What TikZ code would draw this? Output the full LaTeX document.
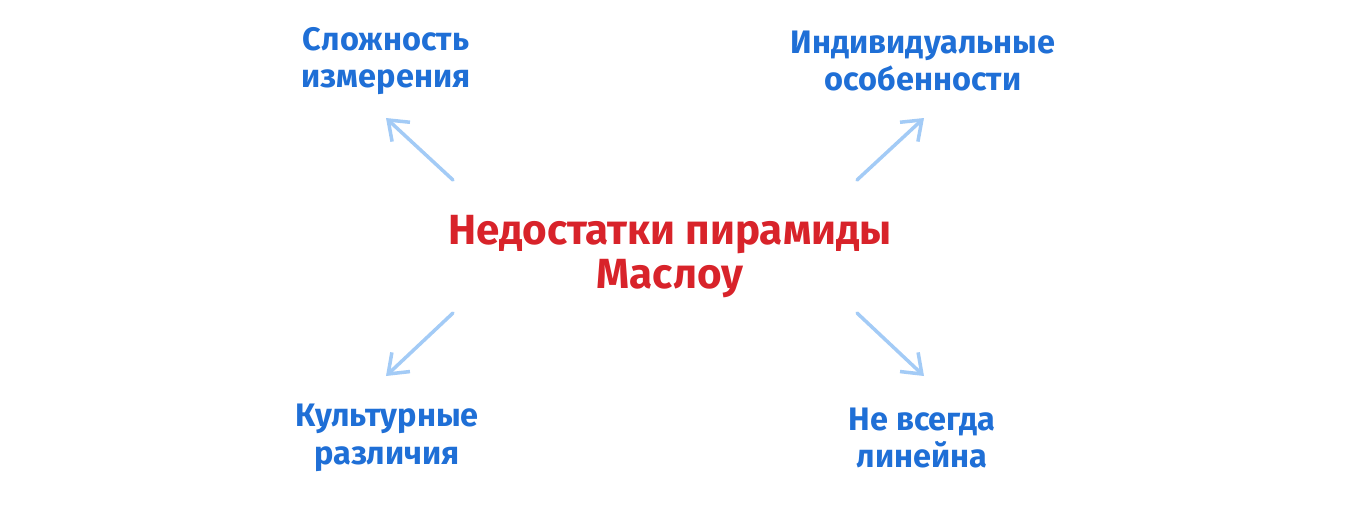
\documentclass[tikz,border=0pt]{standalone}
\usepackage{fontspec}
\setmainfont{Fira Sans}
\usetikzlibrary{arrows.meta, positioning}
\definecolor{titlered}{HTML}{D8232A}
\definecolor{labelblue}{HTML}{1F6FD6}
\definecolor{arrowblue}{HTML}{A3CBF6}
\tikzset{
    x=0.02cm, y=-0.02cm, % one unit per pixel of the sketch
    title/.style={text=titlered, align=center, font=\fontsize{24}{25}\selectfont\bfseries},
    reason/.style={text=labelblue, align=center, font=\fontsize{18.5}{21.5}\selectfont\bfseries},
    pointer/.style={draw=arrowblue, line width=2pt, line cap=round, -{Straight Barb[length=10pt, width=15pt, line width=2pt]}},
}
\begin{document}
\begin{tikzpicture}
    \useasboundingbox (0,0) rectangle (1352,508);
    \node[title] (maslow) at (670,257) {Недостатки пирамиды\\Маслоу};
    \node[reason] (measure) at (386,61) {Сложность\\измерения};
    \node[reason] (individual) at (923,61) {Индивидуальные\\особенности};
    \node[reason] (culture) at (387,438) {Культурные\\различия};
    \node[reason] (linear) at (922,438) {Не всегда\\линейна};
    \coordinate (tl) at (453,180);
    \coordinate (tr) at (857,180);
    \coordinate (bl) at (453,313);
    \coordinate (br) at (857,313);
    \coordinate (tl end) at (386,118);
    \coordinate (tr end) at (924,118);
    \coordinate (bl end) at (386,376);
    \coordinate (br end) at (924,376);
    \draw[pointer] (tl) -- (tl end);
    \draw[pointer] (tr) -- (tr end);
    \draw[pointer] (bl) -- (bl end);
    \draw[pointer] (br) -- (br end);
\end{tikzpicture}
\end{document}
